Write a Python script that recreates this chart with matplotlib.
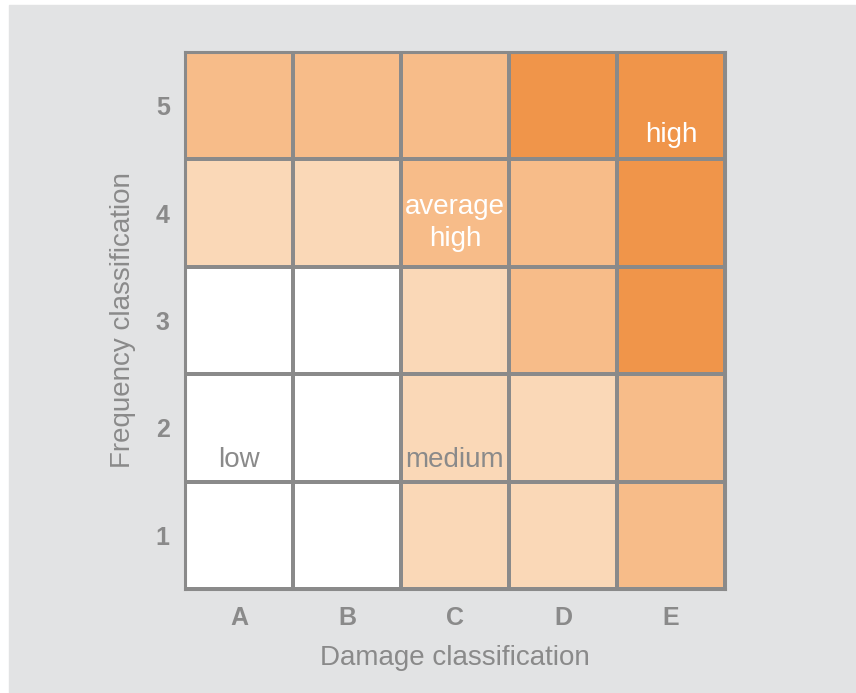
import numpy as np
import matplotlib.pyplot as plt
from matplotlib.colors import ListedColormap
from matplotlib.patches import Rectangle

plt.rcParams['font.family'] = ['Liberation Sans', 'DejaVu Sans']

damage = ['A', 'B', 'C', 'D', 'E']
frequency = ['1', '2', '3', '4', '5']
# risk level per cell, rows = frequency 1..5, cols = damage A..E
levels = np.array([
    [0, 0, 1, 1, 2],
    [0, 0, 1, 1, 2],
    [0, 0, 1, 2, 3],
    [1, 1, 2, 2, 3],
    [2, 2, 2, 3, 3],
])
level_colors = ['#ffffff', '#fad8b7', '#f7bc89', '#f0954a']
# (label, damage index, frequency index, text colour, vertical offset)
labels = [
    ('low', 0, 1, '#8a8a8a', -0.3),
    ('medium', 2, 1, '#8a8a8a', -0.3),
    ('average\nhigh', 2, 3, 'white', -0.09),
    ('high', 4, 4, 'white', -0.27),
]

grey = '#8a8a8a'
bg = '#e2e3e4'

fig = plt.figure(figsize=(8.56, 6.93), dpi=100, facecolor='white')
fig.patches.append(Rectangle((9 / 856, 0), 1, (693 - 5) / 693,
                             transform=fig.transFigure, color=bg, zorder=-10))

ax = fig.add_axes([185 / 856, (693 - 589) / 693, 540 / 856, 537 / 693])
cmap = ListedColormap(level_colors)
ax.pcolormesh(np.arange(6) - 0.5, np.arange(6) - 0.5, levels, cmap=cmap,
              vmin=-0.5, vmax=3.5, edgecolors=grey, linewidth=1.7)
ax.set_xlim(-0.5, 4.5)
ax.set_ylim(-0.5, 4.5)

for s in ax.spines.values():
    s.set_color(grey)
    s.set_linewidth(2.2)

ax.set_xticks(range(5))
ax.set_xticklabels(damage)
ax.set_yticks(range(5))
ax.set_yticklabels(frequency)
ax.tick_params(length=0, colors=grey, labelsize=18)
ax.tick_params(axis='x', pad=12)
ax.tick_params(axis='y', pad=11)
for t in ax.get_xticklabels() + ax.get_yticklabels():
    t.set_fontweight('bold')

ax.set_xlabel('Damage classification', color=grey, fontsize=20, labelpad=11)
ax.set_ylabel('Frequency classification', color=grey, fontsize=20, labelpad=14)

for text, xi, yi, c, dy in labels:
    ax.text(xi, yi + dy, text, ha='center', va='center', color=c,
            fontsize=20, linespacing=1.3)

fig.savefig('out.png', dpi=100, facecolor=fig.get_facecolor())
